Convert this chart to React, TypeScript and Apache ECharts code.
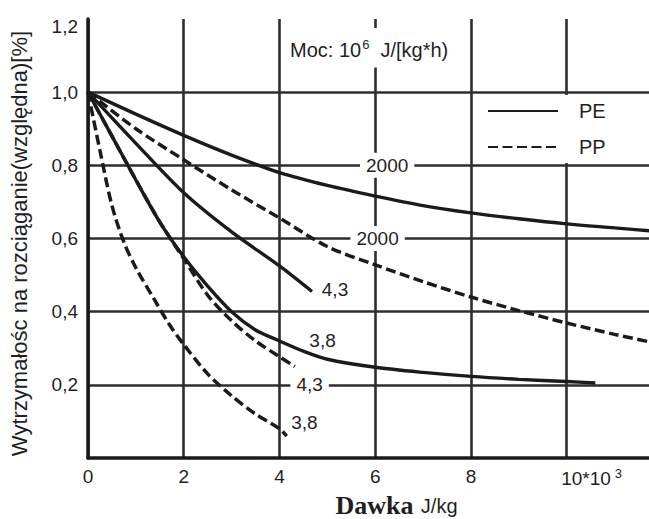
import React, { useEffect, useRef } from 'react';
import * as echarts from 'echarts';

// ---- data (dose in 10^3 J/kg, relative tensile strength) ----
const xTickLabels: Record<number, string> = { 0: '0', 2: '2', 4: '4', 6: '6', 8: '8', 10: '{sp|}10*10{sup|3}' };
const yTickLabels = ['', '0,2', '0,4', '0,6', '0,8', '1,0', '{top|1,2}'];

const pe2000 = [[0, 1], [1, 0.94], [2, 0.882], [3, 0.828], [4, 0.78], [5, 0.745], [6, 0.716], [7, 0.69], [8, 0.67], [9, 0.654], [10, 0.64], [11, 0.629], [12, 0.618]];
const pp2000 = [[0, 1], [1, 0.9], [2, 0.815], [3, 0.733], [4, 0.656], [5, 0.578], [6, 0.528], [7, 0.482], [8, 0.44], [9, 0.403], [10, 0.369], [11, 0.338], [12, 0.31]];
const pe43 = [[0, 1], [1, 0.86], [2, 0.725], [3, 0.618], [4, 0.525], [4.68, 0.455]];
const pe38 = [[0, 1], [0.5, 0.88], [1, 0.76], [1.5, 0.645], [2, 0.55], [2.5, 0.47], [3, 0.4], [3.5, 0.35], [4, 0.32], [4.5, 0.292], [5, 0.27], [6, 0.248], [7, 0.234], [8, 0.223], [9, 0.215], [10, 0.209], [10.6, 0.205]];
const pp43 = [[0, 1], [0.5, 0.88], [1, 0.76], [1.5, 0.645], [2, 0.545], [2.5, 0.445], [3, 0.375], [3.5, 0.32], [4, 0.277], [4.32, 0.25]];
const pp38 = [[0, 1], [0.25, 0.84], [0.5, 0.69], [0.75, 0.59], [1, 0.52], [1.4, 0.43], [1.7, 0.365], [2, 0.31], [2.5, 0.23], [3, 0.17], [3.5, 0.12], [4, 0.08], [4.15, 0.06]];

const curveLabelText = ['2000', '2000', '4,3', '3,8', '4,3', '3,8'];
const curveLabelX = [6.25, 6.05, 5.16, 4.9, 4.63, 4.52];
const curveLabelY = [0.8, 0.6, 0.46, 0.322, 0.2, 0.097];
const curveLabelOnGrid = [true, true, false, false, true, false];

const legendNames = ['PE', 'PP'];

const INK = '#1b1b1b';
const TXT = '#1f1f1f';
const FONT = 'Liberation Sans, Arial, sans-serif';

export default function App() {
  const ref = useRef<HTMLDivElement>(null);
  useEffect(() => {
    if (!ref.current) return;
    const chart = echarts.init(ref.current, undefined, { renderer: 'svg' });
    const solid = { color: INK, width: 3.4, type: 'solid' as const };
    const dashed = { color: INK, width: 3.5, type: [10, 4.5] as any };
    const mk = (name: string, data: number[][], ls: any) => ({
      name, type: 'line', data, symbol: 'none', showSymbol: false, smooth: 0.3,
      lineStyle: ls, itemStyle: { color: INK }, z: 3, silent: true,
    });
    chart.setOption({
      animation: false,
      backgroundColor: '#fff',
      textStyle: { fontFamily: FONT },
      grid: { left: 88, right: 0, top: 19, bottom: 61, containLabel: false, outerBoundsMode: 'none' },
      title: {
        text: 'Moc: 10{sup|6}  J/[kg*h)',
        left: 284, top: 28,
        backgroundColor: '#fff',
        padding: [10, 6, 8, 6],
        textStyle: {
          fontFamily: FONT, fontSize: 20, fontWeight: 'normal', color: TXT,
          rich: { sup: { fontSize: 13, fontFamily: FONT, color: TXT, verticalAlign: 'top', padding: [0, 0, 10, 1] } },
        },
      },
      legend: {
        data: legendNames,
        orient: 'vertical',
        left: 482, top: 95,
        itemWidth: 70, itemHeight: 14, itemGap: 16,
        backgroundColor: '#fff',
        padding: [6, 10, 6, 5],
        selectedMode: false,
        itemStyle: { color: 'rgba(0,0,0,0)', borderColor: 'rgba(0,0,0,0)', borderWidth: 0, opacity: 0 },
        textStyle: { fontFamily: FONT, fontSize: 20, color: TXT, padding: [0, 0, 0, 16] },
      },
      xAxis: {
        type: 'value', min: 0, max: 11.72, interval: 2,
        axisLine: { show: true, onZero: false, lineStyle: { color: INK, width: 3.5 } },
        axisTick: { show: false },
        splitLine: { show: true, showMaxLine: false, lineStyle: { color: '#2e2e2e', width: 2.6 } },
        axisLabel: {
          margin: 9, fontSize: 19, fontFamily: FONT, color: TXT,
          formatter: (v: number) => (Math.abs(v - Math.round(v)) < 1e-6 ? xTickLabels[Math.round(v)] ?? '' : ''),
          rich: {
            sp: { width: 50 },
            sup: { fontSize: 13, fontFamily: FONT, color: TXT, verticalAlign: 'top', padding: [0, 0, 10, 4] },
          },
        },
        name: '{sp|}{b|Dawka} {n|J/kg}',
        nameLocation: 'middle', nameGap: 34,
        nameTextStyle: {
          rich: {
            sp: { width: 56 },
            b: { fontFamily: 'Liberation Serif, Times New Roman, serif', fontWeight: 'bold', fontSize: 26, color: TXT },
            n: { fontFamily: FONT, fontSize: 20, color: TXT, padding: [0, 0, 0, 4] },
          },
        },
      },
      yAxis: {
        type: 'value', min: 0, max: 1.2, interval: 0.2,
        axisLine: { show: true, onZero: false, lineStyle: { color: INK, width: 3.5 } },
        axisTick: { show: false },
        splitLine: { show: true, showMaxLine: false, showMinLine: false, lineStyle: { color: '#2e2e2e', width: 2.6 } },
        axisLabel: {
          margin: 10, fontSize: 19, fontFamily: FONT, color: TXT,
          formatter: (v: number) => yTickLabels[Math.round(v / 0.2)] ?? '',
          rich: { top: { fontSize: 19, fontFamily: FONT, color: TXT, padding: [14, 0, 0, 0] } },
        },
        name: 'Wytrzymałośc na rozciąganie(względna)[%]{sp|}',
        nameLocation: 'middle', nameGap: 58, nameRotate: 90,
        nameTextStyle: { fontFamily: FONT, fontSize: 22, color: TXT, rich: { sp: { width: 10 } } },
      },
      series: [
        mk('PE', pe2000, solid),
        mk('PP', pp2000, dashed),
        mk('PE', pe43, solid),
        mk('PE', pe38, solid),
        mk('PP', pp43, dashed),
        mk('PP', pp38, dashed),
        {
          name: 'curveLabels', type: 'scatter', silent: true, z: 6,
          symbolSize: 1, itemStyle: { color: '#fff', opacity: 1 },
          data: curveLabelText.map((t, i) => ({
            value: [curveLabelX[i], curveLabelY[i]], name: t,
            label: { padding: curveLabelOnGrid[i] ? [3, 6] : [1, 2] },
          })),
          label: {
            show: true, position: 'inside', formatter: (p: any) => p.name, opacity: 1,
            fontFamily: FONT, fontSize: 19, color: TXT,
            backgroundColor: '#ffffff',
          },
        },
      ],
    });
    return () => chart.dispose();
  }, []);
  return <div ref={ref} style={{ position: 'absolute', left: 0, top: 0, width: 649, height: 519 }} />;
}
